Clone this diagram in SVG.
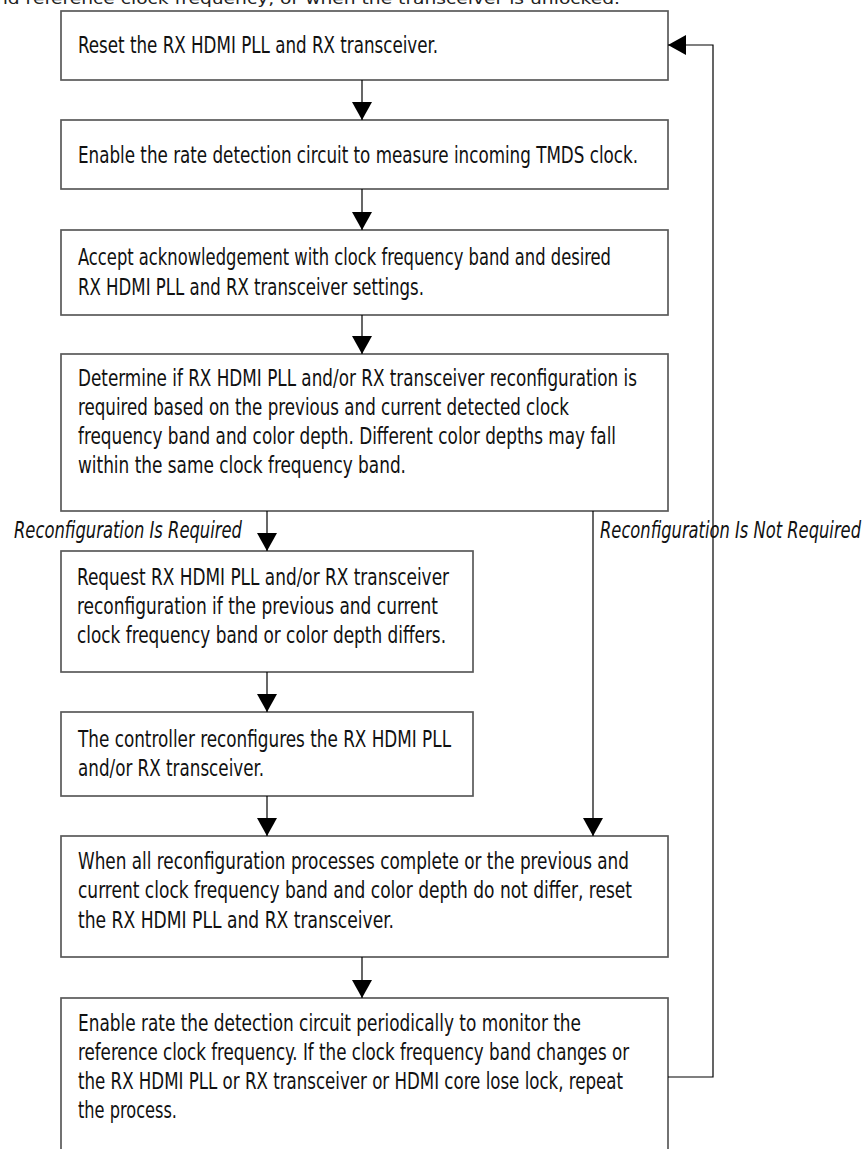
<svg xmlns="http://www.w3.org/2000/svg" width="864" height="1149" viewBox="0 0 864 1149">
<style>
.box{fill:#fff;stroke:#5a5a5a;stroke-width:1.7}
.t{font-family:"DejaVu Sans Condensed","Liberation Sans",sans-serif;font-size:23px;fill:#111}
.lbl{font-family:"DejaVu Sans Condensed","Liberation Sans",sans-serif;font-size:23px;font-style:italic;fill:#111}
.top{font-family:"DejaVu Sans",sans-serif;font-size:16px;fill:#222}
.c{fill:none;stroke:#000;stroke-width:1.2}
.ah{fill:#000}
</style>
<defs>
<marker id="arr" markerWidth="20" markerHeight="20" refX="18" refY="10" orient="auto" markerUnits="userSpaceOnUse">
<path d="M0,0 L18,10 L0,20 Z" class="ah"/>
</marker>
</defs>
<text class="top" x="-4" y="4" textLength="624" lengthAdjust="spacingAndGlyphs">nd reference clock frequency, or when the transceiver is unlocked.</text>

<g id="n1">
<rect class="box" x="61" y="11" width="607" height="69"/>
<text class="t" x="78" y="53" textLength="360" lengthAdjust="spacingAndGlyphs">Reset the RX HDMI PLL and RX transceiver.</text>
</g>
<g id="n2">
<rect class="box" x="61" y="120" width="607" height="69"/>
<text class="t" x="78" y="163" textLength="560" lengthAdjust="spacingAndGlyphs">Enable the rate detection circuit to measure incoming TMDS clock.</text>
</g>
<g id="n3">
<rect class="box" x="61" y="230" width="607" height="85"/>
<text class="t" x="78" y="265" textLength="533" lengthAdjust="spacingAndGlyphs">Accept acknowledgement with clock frequency band and desired</text>
<text class="t" x="78" y="295" textLength="346" lengthAdjust="spacingAndGlyphs">RX HDMI PLL and RX transceiver settings.</text>
</g>
<g id="n4">
<rect class="box" x="61" y="354" width="607" height="157"/>
<text class="t" x="78" y="386" textLength="559" lengthAdjust="spacingAndGlyphs">Determine if RX HDMI PLL and/or RX transceiver reconfiguration is</text>
<text class="t" x="78" y="415" textLength="491" lengthAdjust="spacingAndGlyphs">required based on the previous and current detected clock</text>
<text class="t" x="78" y="444" textLength="538" lengthAdjust="spacingAndGlyphs">frequency band and color depth. Different color depths may fall</text>
<text class="t" x="78" y="473" textLength="328" lengthAdjust="spacingAndGlyphs">within the same clock frequency band.</text>
</g>
<g id="n5">
<rect class="box" x="61" y="551" width="412" height="121"/>
<text class="t" x="77" y="585" textLength="372" lengthAdjust="spacingAndGlyphs">Request RX HDMI PLL and/or RX transceiver</text>
<text class="t" x="77" y="614" textLength="361" lengthAdjust="spacingAndGlyphs">reconfiguration if the previous and current</text>
<text class="t" x="77" y="643" textLength="369" lengthAdjust="spacingAndGlyphs">clock frequency band or color depth differs.</text>
</g>
<g id="n6">
<rect class="box" x="61" y="712" width="412" height="84"/>
<text class="t" x="78" y="747" textLength="373" lengthAdjust="spacingAndGlyphs">The controller reconfigures the RX HDMI PLL</text>
<text class="t" x="78" y="776" textLength="186" lengthAdjust="spacingAndGlyphs">and/or RX transceiver.</text>
</g>
<g id="n7">
<rect class="box" x="61" y="836" width="607" height="121"/>
<text class="t" x="78" y="869" textLength="551" lengthAdjust="spacingAndGlyphs">When all reconfiguration processes complete or the previous and</text>
<text class="t" x="78" y="898" textLength="554" lengthAdjust="spacingAndGlyphs">current clock frequency band and color depth do not differ, reset</text>
<text class="t" x="78" y="928" textLength="316" lengthAdjust="spacingAndGlyphs">the RX HDMI PLL and RX transceiver.</text>
</g>
<g id="n8">
<rect class="box" x="61" y="998" width="607" height="170"/>
<text class="t" x="78" y="1031" textLength="503" lengthAdjust="spacingAndGlyphs">Enable rate the detection circuit periodically to monitor the</text>
<text class="t" x="78" y="1060" textLength="551" lengthAdjust="spacingAndGlyphs">reference clock frequency. If the clock frequency band changes or</text>
<text class="t" x="78" y="1089" textLength="545" lengthAdjust="spacingAndGlyphs">the RX HDMI PLL or RX transceiver or HDMI core lose lock, repeat</text>
<text class="t" x="78" y="1118" textLength="99" lengthAdjust="spacingAndGlyphs">the process.</text>
</g>

<g id="connectors">
<path class="c" d="M362,80 V120" marker-end="url(#arr)"/>
<path class="c" d="M362,189 V230" marker-end="url(#arr)"/>
<path class="c" d="M362,315 V354" marker-end="url(#arr)"/>
<path class="c" d="M267,511 V551" marker-end="url(#arr)"/>
<path class="c" d="M267,672 V712" marker-end="url(#arr)"/>
<path class="c" d="M267,796 V836" marker-end="url(#arr)"/>
<path class="c" d="M593,511 V836" marker-end="url(#arr)"/>
<path class="c" d="M362,957 V998" marker-end="url(#arr)"/>
<path class="c" d="M668,1077 H713 V45 H668" marker-end="url(#arr)"/>
<text class="lbl" x="14" y="538" textLength="228" lengthAdjust="spacingAndGlyphs">Reconfiguration Is Required</text>
<text class="lbl" x="600" y="538" textLength="261" lengthAdjust="spacingAndGlyphs">Reconfiguration Is Not Required</text>
</g>
</svg>
